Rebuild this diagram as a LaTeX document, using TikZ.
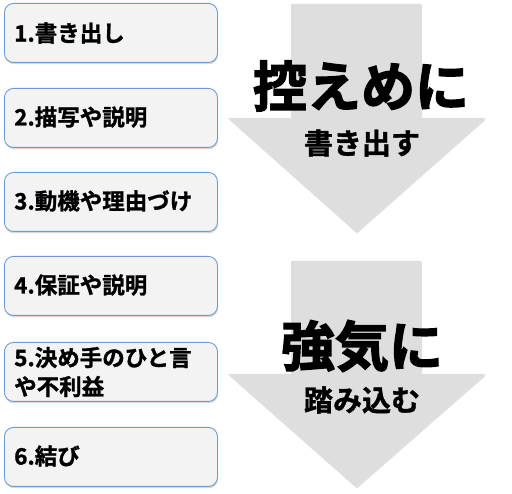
\documentclass[tikz,border=0pt]{standalone}
\usepackage{fontspec}
\setmainfont{Noto Sans CJK JP}[BoldFont={Noto Sans CJK JP Bold}]
\newfontfamily\heavyjp{Noto Sans CJK JP Bold}[FakeBold=2.5]
\newfontfamily\midjp{Noto Sans CJK JP Bold}[FakeBold=1.2]
\usetikzlibrary{shadows}
\definecolor{boxfill}{HTML}{F3F3F3}
\definecolor{boxline}{HTML}{6E9BD3}
\definecolor{arrowfill}{HTML}{DEDEDE}
\tikzset{
  stepbox/.style={draw=boxline, line width=0.9pt, fill=boxfill, rounded corners=9pt,
    drop shadow={shadow xshift=0.6pt, shadow yshift=-1.8pt, opacity=0.25, fill=black!60},
    minimum width=213pt, minimum height=59pt, anchor=north west, inner sep=0pt},
  steptext/.style={anchor=west, font=\midjp\fontsize{22.5}{29}\selectfont, align=left, inner sep=0pt},
  bigarrow/.style={fill=arrowfill, draw=none,
    drop shadow={shadow xshift=1pt, shadow yshift=-1.5pt, opacity=0.2, fill=black!60}},
  bigtext/.style={font=\heavyjp\fontsize{54}{58}\selectfont, inner sep=0pt},
  smalltext/.style={font=\midjp\fontsize{29}{32}\selectfont, inner sep=0pt},
}
\begin{document}
\begin{tikzpicture}[x=1pt,y=-1pt]
\useasboundingbox (0,0) rectangle (512,494);
\fill[white] (0,0) rectangle (512,494);
% boxes
\node[stepbox] (b1) at (4,3) {};
\node[stepbox] (b2) at (4,88) {};
\node[stepbox] (b3) at (4,172) {};
\node[stepbox] (b4) at (4,256) {};
\node[stepbox] (b5) at (4,342) {};
\node[stepbox] (b6) at (4,427) {};
\node[steptext] (t1) at (14,33) {1.書き出し};
\node[steptext] (t2) at (14,117) {2.描写や説明};
\node[steptext] (t3) at (14,201) {3.動機や理由づけ};
\node[steptext] (t4) at (14,285) {4.保証や説明};
\node[steptext] (t5) at (14,372) {5.決め手のひと言\\や不利益};
\node[steptext] (t6) at (14,456) {6.結び};
% arrows
\path[bigarrow] (291,4) -- (421,4) -- (421,118) -- (485,118) -- (356,232) -- (228,118) -- (291,118) -- cycle;
\path[bigarrow] (291,261) -- (421,261) -- (421,374) -- (485,374) -- (356,487) -- (228,374) -- (291,374) -- cycle;
\node[bigtext] (a1) at (361,86) {控えめに};
\node[smalltext] (s1) at (362,143) {書き出す};
\node[bigtext] (a2) at (362,346) {強気に};
\node[smalltext] (s2) at (362,400) {踏み込む};
\end{tikzpicture}
\end{document}
